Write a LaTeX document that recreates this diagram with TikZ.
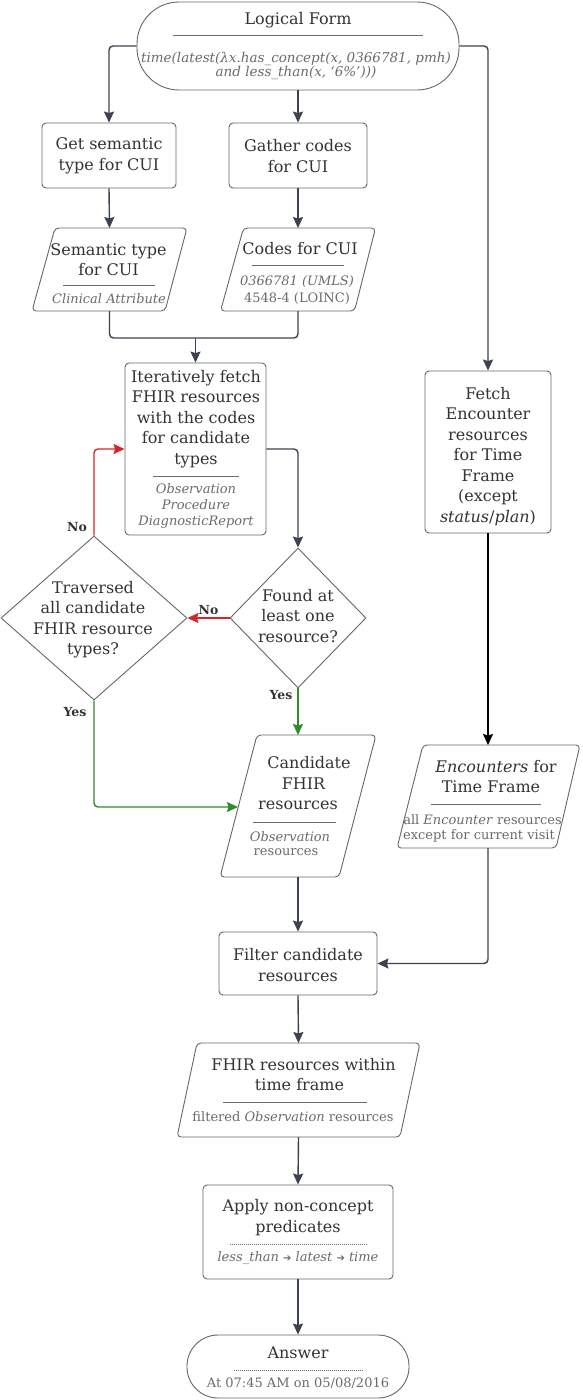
\documentclass[tikz,border=0pt]{standalone}
\usepackage{fontspec}
\setmainfont{DejaVu Serif}
\newfontfamily\symf{DejaVu Sans}
\usetikzlibrary{arrows.meta,shapes.geometric}
\definecolor{boxc}{HTML}{666666}
\definecolor{txtc}{HTML}{333333}
\definecolor{subc}{HTML}{6A6A6A}
\definecolor{arrc}{HTML}{3C4250}
\definecolor{redc}{HTML}{D42828}
\definecolor{grnc}{HTML}{2E8B2E}
\tikzset{
  box/.style={draw=boxc, line width=0.9pt, rounded corners=4pt, inner sep=0pt},
  anch/.style={inner sep=0pt, outer sep=0pt},
  ttl/.style={text=txtc, font=\fontsize{16}{20.5}\selectfont, align=center, inner sep=0pt},
  subt/.style={text=subc, font=\fontsize{13}{16.5}\selectfont, align=center, inner sep=0pt},
  con/.style={draw=arrc, line width=1.4pt, rounded corners=4pt},
  tip/.style={-{Stealth[length=11pt,width=10pt,inset=1.5pt]}},
  arr/.style={con, tip},
  redarr/.style={con, draw=redc, tip},
  grnarr/.style={con, draw=grnc, tip},
  sepl/.style={draw=subc, line width=0.6pt, dash pattern=on 1.5pt off 0.5pt},
  lbl/.style={text=txtc, font=\bfseries\fontsize{12.5}{14}\selectfont, inner sep=0pt}
}
\begin{document}
\begin{tikzpicture}[x=1pt,y=-1pt]
\useasboundingbox (0,0) rectangle (582,1400);

% ---------- Logical form ----------
\node[box, rounded corners=42pt, minimum width=322pt, minimum height=88pt] (lf) at (298,46) {};
\node[ttl] (lft) at (298,20) {Logical Form};
\draw[sepl] (173,35) -- (423,35);
\node[subt, font=\itshape\fontsize{13.5}{14}\selectfont] (lff) at (296,65.5)
  {time(latest(λx.has\_concept(x, 0366781, pmh)\\and less\_than(x, ‘6\%’)))};

% ---------- Get semantic type / Gather codes ----------
\node[box, minimum width=134pt, minimum height=65pt] (gs) at (109,155.5) {};
\node[ttl] (gst) at (109,156) {Get semantic\\type for CUI};
\node[box, minimum width=138pt, minimum height=65pt] (gc) at (298,155.5) {};
\node[ttl] (gct) at (298,156) {Gather codes\\for CUI};

% ---------- Semantic type parallelogram ----------
\draw[box] (55,228) -- (187,228) -- (165,311) -- (32,311) -- cycle;
\node[anch, minimum width=100pt, minimum height=83pt] (sem) at (109.5,269.5) {};
\node[ttl] (semt) at (108.5,259.5) {Semantic type\\for CUI};
\draw[sepl] (63,285) -- (155,285);
\node[subt, font=\itshape\fontsize{13}{16.5}\selectfont] (sems) at (109,299) {Clinical Attribute};

% ---------- Codes parallelogram ----------
\draw[box] (243.5,228) -- (375.5,228) -- (354.5,311) -- (220.5,311) -- cycle;
\node[anch, minimum width=100pt, minimum height=83pt] (cod) at (298,269.5) {};
\node[ttl] (codt) at (300,249) {Codes for CUI};
\draw[sepl] (252,265) -- (344,265);
\node[subt] (cods) at (297,290) {\textit{0366781 (UMLS)}\\4548-4 (LOINC)};

% ---------- Iteratively fetch ----------
\node[box, minimum width=141pt, minimum height=172pt] (it) at (195.5,449) {};
\node[ttl] (itt) at (196,419) {Iteratively fetch\\FHIR resources\\with the codes\\for candidate\\types};
\draw[sepl] (153,476) -- (239,476);
\node[subt, font=\itshape\fontsize{13}{16}\selectfont] (its) at (196,506) {Observation\\Procedure\\DiagnosticReport};

% ---------- Diamonds ----------
\node[diamond, draw=boxc, line width=0.9pt, inner sep=0pt, minimum width=136pt, minimum height=140pt] (fd) at (298,618) {};
\node[ttl] (fdt) at (298,616) {Found at\\least one\\resource?};
\node[diamond, draw=boxc, line width=0.9pt, inner sep=0pt, minimum width=186pt, minimum height=164pt] (tr) at (94,618) {};
\node[ttl] (trt) at (93,619.5) {Traversed\\all candidate\\FHIR resource\\types?};

% ---------- Candidate FHIR resources ----------
\draw[box] (257,735) -- (376,735) -- (339,877) -- (220,877) -- cycle;
\node[anch, minimum width=100pt, minimum height=142pt] (cand) at (298,806) {};
\coordinate (candL) at (238,807);
\node[ttl] (cand1) at (309,763) {Candidate};
\node[ttl] (cand2) at (303.5,784) {FHIR};
\node[ttl] (cand3) at (298,805) {resources};
\draw[sepl] (253,822) -- (336,822);
\node[subt, font=\itshape\fontsize{13}{16}\selectfont] (cand4) at (290,837) {Observation};
\node[subt] (cand5) at (286,852) {resources};

% ---------- Fetch Encounter ----------
\node[box, minimum width=126pt, minimum height=162pt] (fe) at (488,452) {};
\node[ttl] (fet) at (488,456.5) {Fetch\\Encounter\\resources\\for Time\\Frame\\(except\\\textit{status}/\textit{plan})};

% ---------- Encounters parallelogram ----------
\draw[box] (423,745) -- (580,745) -- (556,848) -- (397,848) -- cycle;
\node[anch, minimum width=120pt, minimum height=103pt] (enc) at (488,796.5) {};
\node[ttl] (enc1) at (496,767) {\textit{Encounters} for};
\node[ttl] (enc2) at (491,787) {Time Frame};
\draw[sepl] (431,804) -- (541,804);
\node[subt] (enc3) at (482.5,819.5) {all \textit{Encounter} resources};
\node[subt] (enc4) at (479,836) {except for current visit};

% ---------- Filter ----------
\node[box, minimum width=158pt, minimum height=63pt] (fl) at (298,963.5) {};
\node[ttl] (flt) at (298,965) {Filter candidate\\resources};

% ---------- FHIR resources within time frame ----------
\draw[box] (197,1043) -- (420,1043) -- (400,1137) -- (177,1137) -- cycle;
\node[anch, minimum width=180pt, minimum height=94pt] (fh) at (298.5,1090) {};
\node[ttl] (fh1) at (303.5,1065) {FHIR resources within};
\node[ttl] (fh2) at (299.5,1085) {time frame};
\draw[sepl] (223,1102) -- (367,1102);
\node[subt] (fh3) at (293,1117) {filtered \textit{Observation} resources};

% ---------- Apply ----------
\node[box, minimum width=190pt, minimum height=94pt] (ap) at (298,1232) {};
\node[ttl] (apt) at (298,1217.5) {Apply non-concept\\predicates};
\draw[sepl] (229.5,1244) -- (366.5,1244);
\node[subt] (aps) at (298,1258) {\textit{less\_than} {\symf\fontsize{10}{12}\selectfont ➔} \textit{latest} {\symf\fontsize{10}{12}\selectfont ➔} \textit{time}};

% ---------- Answer ----------
\node[box, rounded corners=31pt, minimum width=222pt, minimum height=63pt] (ans) at (298,1366.5) {};
\node[ttl] (anst) at (298,1353) {Answer};
\draw[sepl] (233.5,1370) -- (362.5,1370);
\node[subt] (anss) at (298,1383.5) {At 07:45 AM on 05/08/2016};

% ---------- Connectors ----------
\draw[arr] (lf.west) -| (gs.north);
\draw[arr] (lf.south) -- (gc.north);
\draw[arr] (lf.east) -| (fe.north);
\draw[arr] (gs.south) -- (sem.north);
\draw[arr] (gc.south) -- (cod.north);
\coordinate (jn) at (195.5,338);
\draw[con] (sem.south) |- (jn);
\draw[con] (cod.south) |- (jn);
\draw[arr] (jn) -- (it.north);
\draw[arr] (it.east) -| (fd.north);
\draw[redarr] (fd.west) -- node[lbl, above=3pt] (no2) {No} (tr.east);
\draw[redarr] (tr.north) |- (it.west);
\node[lbl] (no1) at (77,527) {No};
\draw[grnarr] (fd.south) -- (cand.north);
\node[lbl] (yes1) at (281,695) {Yes};
\draw[grnarr] (tr.south) |- (candL);
\node[lbl] (yes2) at (75,712) {Yes};
\draw[arr] (cand.south) -- (fl.north);
\draw[arr, draw=black] (fe.south) -- (enc.north);
\draw[arr] (enc.south) |- (fl.east);
\draw[arr] (fl.south) -- (fh.north);
\draw[arr] (fh.south) -- (ap.north);
\draw[arr] (ap.south) -- (ans.north);
\end{tikzpicture}
\end{document}
